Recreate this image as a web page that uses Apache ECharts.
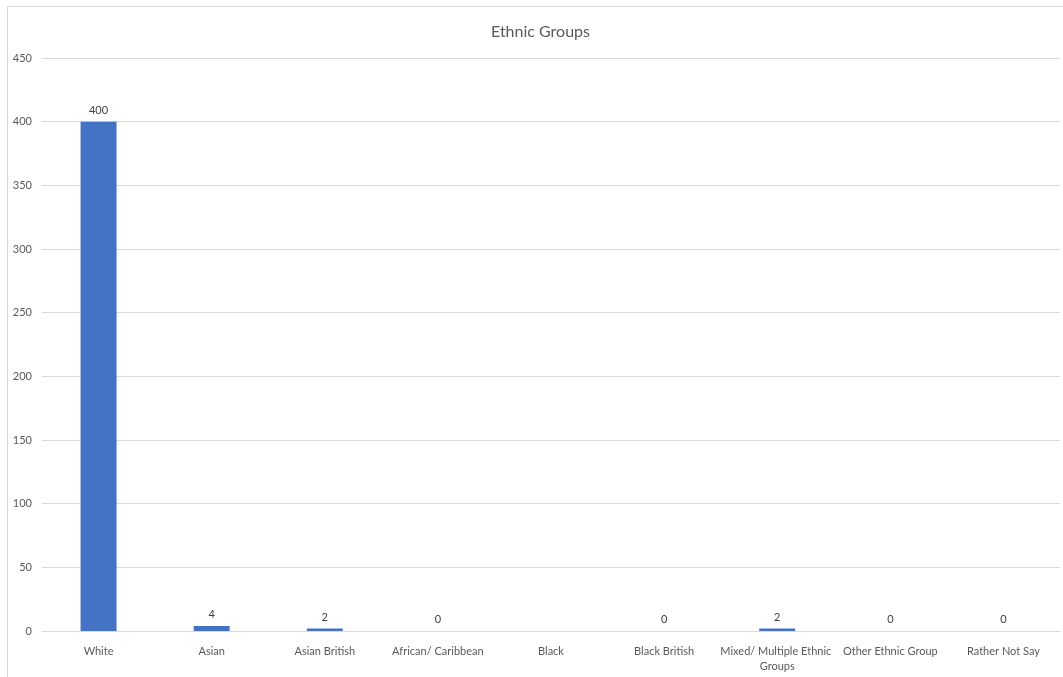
<!DOCTYPE html>
<html><head><meta charset="utf-8">
<script src="https://cdn.jsdelivr.net/npm/echarts@6/dist/echarts.min.js"></script>
<style>html,body{margin:0;padding:0;background:#fff}#c{width:1063px;height:677px}</style>
</head><body><div id="c"></div>
<script>
const categories = ['White','Asian','Asian British','African/ Caribbean','Black','Black British','Mixed/ Multiple Ethnic Groups','Other Ethnic Group','Rather Not Say'];
const values = [400, 4, 2, 0, null, 0, 2, 0, 0];
const chart = echarts.init(document.getElementById('c'));
const font = 'Lato, "Open Sans", sans-serif';
chart.setOption({
  animation: false,
  graphic: [{type:'rect', shape:{x:7.5,y:6.5,width:1100,height:700}, style:{fill:'none', stroke:'#d9d9d9', lineWidth:1}, silent:true}],
  title: {text:'Ethnic Groups', left:486, top:19, textStyle:{fontFamily:font, fontSize:16, fontWeight:'normal', color:'#595959'}},
  grid: {left:42, right:3, top:58, bottom:46, containLabel:false, outerBoundsMode:'none'},
  xAxis: {type:'category', data:categories,
    axisLine:{lineStyle:{color:'#d9d9d9'}}, axisTick:{show:false},
    axisLabel:{fontFamily:font, fontSize:11, color:'#595959', margin:13, interval:0, width:122, overflow:'break', lineHeight:15}},
  yAxis: {type:'value', min:0, max:450, interval:50,
    axisLine:{show:false}, axisTick:{show:false},
    splitLine:{lineStyle:{color:'#d9d9d9'}},
    axisLabel:{fontFamily:font, fontSize:11, color:'#595959', margin:10}},
  series: [{type:'bar', data:values, barWidth:36,
    itemStyle:{color:'#4472c4'},
    label:{show:true, position:'top', distance:6, fontFamily:font, fontSize:11, color:'#404040'}}]
});
</script></body></html>
